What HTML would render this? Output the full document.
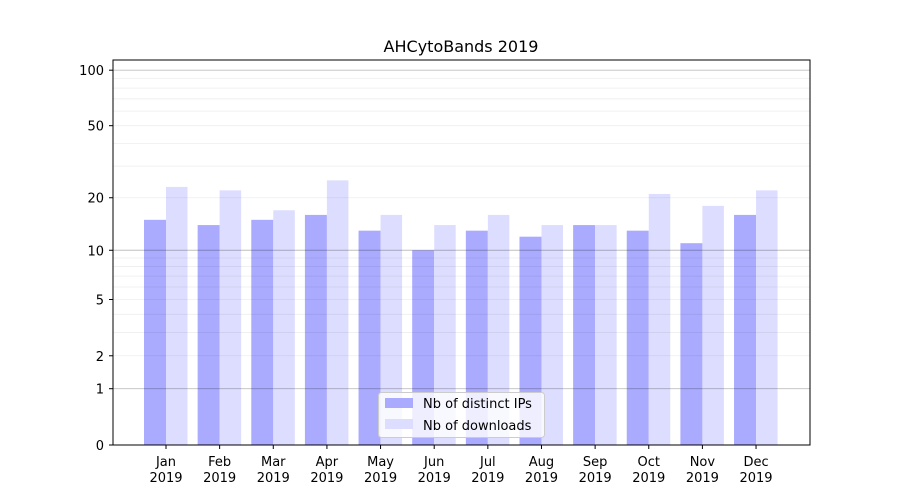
<!DOCTYPE html>
<html><head><meta charset="utf-8"><style>
html,body{margin:0;padding:0;background:#fff;}
svg{display:block;font-family:"DejaVu Sans","Liberation Sans",sans-serif;}
</style></head><body>
<svg width="900" height="500" xmlns="http://www.w3.org/2000/svg">
<rect width="900" height="500" fill="#fff"/>
<g id="bars"></g>
<g id="grid"></g>
<rect x="113" y="60" width="697" height="385" fill="none" stroke="#000" stroke-width="1"/>
<g id="yt" font-size="13" text-anchor="end"></g>
<g id="xt" font-size="13" text-anchor="middle"></g>
<text x="461" y="52" font-size="16" text-anchor="middle">AHCytoBands 2019</text>
<g>
<rect x="378.5" y="392.5" width="166" height="45" rx="3" fill="#fff" fill-opacity="0.8" stroke="#ccc"/>
<rect x="385" y="398" width="28" height="10" fill="#aaaaff"/>
<text x="423" y="408" font-size="13">Nb of distinct IPs</text>
<rect x="385" y="419" width="28" height="10" fill="#ddddff"/>
<text x="423" y="430" font-size="13">Nb of downloads</text>
</g>
<script>
function Y(v){return 445-187*Math.log10(1+v);}
var ns="http://www.w3.org/2000/svg";
function el(p,t,a,txt){var e=document.createElementNS(ns,t);for(var k in a)e.setAttribute(k,a[k]);if(txt!==undefined)e.textContent=txt;p.appendChild(e);return e;}
var g=document.getElementById('grid');
var minors=[2,3,4,5,6,7,8,9,20,30,40,50,60,70,80,90];
minors.forEach(function(v){var y=Y(v);el(g,'line',{x1:113,x2:810,y1:y,y2:y,stroke:'#000','stroke-opacity':0.07,'stroke-width':0.8});});
[1,10,100].forEach(function(v){var y=Y(v);el(g,'line',{x1:113,x2:810,y1:y,y2:y,stroke:'#000','stroke-opacity':0.25,'stroke-width':0.9});});
var ips=[15,14,15,16,13,10,13,12,14,13,11,16];
var dl=[23,22,17,25,16,14,16,14,14,21,18,22];
var m=['Jan','Feb','Mar','Apr','May','Jun','Jul','Aug','Sep','Oct','Nov','Dec'];
var b=document.getElementById('bars'),xt=document.getElementById('xt');
for(var i=0;i<12;i++){var c=166+i*53.64;
el(b,'rect',{x:c-22,y:Y(ips[i]),width:22,height:445-Y(ips[i]),fill:'#aaaaff'});
el(b,'rect',{x:c,y:Y(dl[i]),width:21.5,height:445-Y(dl[i]),fill:'#ddddff'});
el(xt,'line',{x1:c,x2:c,y1:445,y2:449,stroke:'#000'});
el(xt,'text',{x:c,y:466},m[i]);el(xt,'text',{x:c,y:482},'2019');}
var yt=document.getElementById('yt');
[0,1,2,5,10,20,50,100].forEach(function(v){var y=Y(v);el(yt,'line',{x1:109,x2:113,y1:y,y2:y,stroke:'#000'});el(yt,'text',{x:104,y:y+5},String(v));});
</script>
</svg>
</body></html>
